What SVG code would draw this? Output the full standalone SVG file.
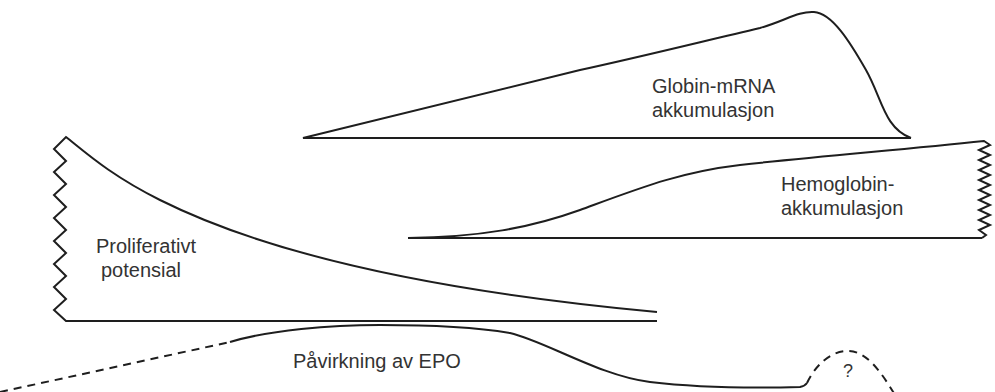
<svg xmlns="http://www.w3.org/2000/svg" width="995" height="392" viewBox="0 0 995 392">
<style>
.ln{fill:none;stroke:#1e1e1e;stroke-width:2;stroke-linejoin:miter;stroke-linecap:butt}
.dash{fill:none;stroke:#1e1e1e;stroke-width:2;stroke-dasharray:8 6}
.lbl{font-family:"Liberation Sans",Arial,sans-serif;font-size:20px;fill:#333}
</style>
<rect width="995" height="392" fill="#fff"/>
<g id="globin-mrna">
<path class="ln" d="M911,138 L303,138 L580,70 C640,57 700,42 760,28 C785,21 798,11 814,12 C832,13 850,42 866,70 C882,98 884,128 911,138"/>
<text class="lbl" x="652" y="93">Globin-mRNA</text>
<text class="lbl" x="652" y="117">akkumulasjon</text>
</g>
<g id="hemoglobin">
<path class="ln" d="M982,238 L408,238 C480,237 530,228 580,210 C640,188 680,172 740,165 C820,156 900,150 984,141 L990,145 L979,150 L990,155 L979,160 L990,165 L979,170 L990,175 L979,180 L990,185 L979,190 L990,195 L979,200 L990,205 L979,210 L990,215 L979,220 L990,225 L979,230 L986,235 L982,238"/>
<text class="lbl" x="781" y="191">Hemoglobin-</text>
<text class="lbl" x="781" y="215">akkumulasjon</text>
</g>
<g id="proliferativt">
<path class="ln" d="M657,312 C420,290 260,250 160,200 C110,175 85,152 66,137 L54,149 L66,161 L54,172 L66,184 L54,195 L66,207 L54,218 L66,230 L54,241 L66,253 L54,264 L66,276 L54,287 L66,299 L54,310 L66,321 L657,321"/>
<text class="lbl" x="96" y="253">Proliferativt</text>
<text class="lbl" x="101" y="277">potensial</text>
</g>
<g id="epo">
<path class="ln" d="M230,342 C270,330 330,325 380,325 C430,325 480,328 510,333 C545,341 600,376 650,382 C700,388 760,388 800,387 Q805,386 807,383"/>
<path class="dash" d="M0,392 L230,342"/>
<path class="dash" d="M807,383 C815,366 830,351 848,351 C866,351 880,370 895,395"/>
<text class="lbl" x="293" y="368">Påvirkning av EPO</text>
<text class="lbl" x="843" y="377" style="font-size:18px">?</text>
</g>
<g id="connectors"></g>
</svg>
